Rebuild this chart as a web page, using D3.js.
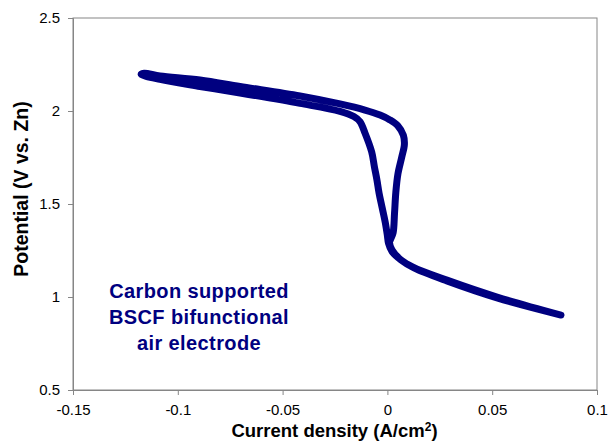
<!DOCTYPE html>
<html>
<head>
<meta charset="utf-8">
<script src="https://cdn.jsdelivr.net/npm/d3@7"></script>
<style>
    body { margin: 0; background: #fff; }
    #chart-area { width: 608px; height: 441px; }
    text { font-family: "Liberation Sans", Arial, sans-serif; }
</style>
</head>
<body>
<div id="chart-area"></div>
<script>
// polarization loop: current density (A/cm2) vs potential (V vs. Zn)
// starts at the end of the tail, runs up the right branch, back along the lower branch
const currentDensity = [
    0.0828, 0.0523, 0.0284, 0.0122, 0.0060, 0.0022, 0.0010,
    0.0015, 0.0027, 0.0034, 0.0040, 0.0050, 0.0068, 0.0081, 0.0076, 0.0050, 0.0012,
    -0.0035, -0.0107, -0.0226, -0.0417, -0.0703, -0.0894, -0.1085, -0.1160, -0.1175,
    -0.1085, -0.0894, -0.0703, -0.0417, -0.0226, -0.0160, -0.0131, -0.0107,
    -0.0075, -0.0062, -0.0050, -0.0040, -0.0025, -0.0010, 0.0000, 0.0005,
    0.0022, 0.0065, 0.0127, 0.0284, 0.0523, 0.0828
];
const potential = [
    0.903, 1.000, 1.091, 1.161, 1.204, 1.253, 1.296,
    1.310, 1.344, 1.450, 1.560, 1.660, 1.750, 1.820, 1.870, 1.920, 1.952,
    1.978, 2.005, 2.038, 2.081, 2.132, 2.167, 2.189, 2.203, 2.197,
    2.170, 2.132, 2.097, 2.041, 1.998, 1.970, 1.943, 1.882,
    1.780, 1.700, 1.630, 1.560, 1.480, 1.400, 1.330, 1.290,
    1.245, 1.199, 1.156, 1.086, 0.995, 0.903
];

const xTicks = [-0.15, -0.1, -0.05, 0, 0.05, 0.1];
const yTicks = [0.5, 1, 1.5, 2, 2.5];
const noteLines = ["Carbon supported", "BSCF bifunctional", "air electrode"];

class PolarizationVis {
    constructor(_parentElement, _x, _y) {
        this.parentElement = _parentElement;
        this.xData = _x;
        this.yData = _y;

        this.initVis();
    }

    initVis() {
        let vis = this;

        vis.margin = { top: 18, right: 11, bottom: 51, left: 73 };
        vis.width = 608 - vis.margin.left - vis.margin.right;
        vis.height = 441 - vis.margin.top - vis.margin.bottom;

        vis.svg = d3.select("#" + vis.parentElement).append("svg")
            .attr("width", 608)
            .attr("height", 441)
            .append("g")
            .attr("transform", "translate(" + vis.margin.left + "," + vis.margin.top + ")");

        vis.x = d3.scaleLinear().domain([-0.15, 0.1]).range([0, vis.width]);
        vis.y = d3.scaleLinear().domain([0.5, 2.5]).range([vis.height, 0]);

        // frame
        vis.svg.append("rect")
            .attr("width", vis.width)
            .attr("height", vis.height)
            .attr("fill", "none")
            .attr("stroke", "#868686")
            .attr("stroke-width", 1);

        // plain hyphen for negatives, like the original
        vis.xAxis = d3.axisBottom(vis.x).tickValues(xTicks).tickSize(5).tickPadding(9)
            .tickFormat(d => String(d));
        vis.yAxis = d3.axisLeft(vis.y).tickValues(yTicks).tickSize(5).tickPadding(8)
            .tickFormat(d => String(d));

        vis.svg.append("g")
            .attr("class", "x-axis")
            .attr("transform", "translate(0," + vis.height + ")")
            .call(vis.xAxis);
        vis.svg.append("g")
            .attr("class", "y-axis")
            .call(vis.yAxis);

        vis.svg.selectAll(".x-axis, .y-axis").selectAll("path, line").attr("stroke", "#868686");
        vis.svg.selectAll(".x-axis, .y-axis").selectAll("text")
            .attr("fill", "#000")
            .style("font-size", "15px");

        // axis titles
        let xt = vis.svg.append("text")
            .attr("x", 334.5 - vis.margin.left)
            .attr("y", 437 - vis.margin.top)
            .attr("text-anchor", "middle")
            .style("font-size", "18.5px")
            .style("font-weight", "bold");
        xt.append("tspan").text("Current density (A/cm");
        xt.append("tspan").attr("dy", -6).style("font-size", "12px").text("2");
        xt.append("tspan").attr("dy", 6).text(")");

        vis.svg.append("text")
            .attr("transform", "translate(" + (28 - vis.margin.left) + "," + (189 - vis.margin.top) + ") rotate(-90)")
            .attr("text-anchor", "middle")
            .style("font-size", "19.5px")
            .style("font-weight", "bold")
            .text("Potential (V vs. Zn)");

        // annotation
        vis.svg.append("g").selectAll("text")
            .data(noteLines)
            .join("text")
            .attr("x", 199 - vis.margin.left)
            .attr("y", (d, i) => 298 - vis.margin.top + i * 26)
            .attr("text-anchor", "middle")
            .attr("fill", "#000080")
            .style("font-size", "20px")
            .style("font-weight", "bold")
            .style("letter-spacing", "0.4px")
            .text(d => d);

        vis.wrangleData();
    }

    wrangleData() {
        let vis = this;

        vis.displayData = vis.xData.map((d, i) => ({ j: d, v: vis.yData[i] }));

        vis.updateVis();
    }

    updateVis() {
        let vis = this;

        let line = d3.line()
            .x(d => vis.x(d.j))
            .y(d => vis.y(d.v))
            .curve(d3.curveCatmullRom.alpha(0.5));

        vis.svg.append("path")
            .datum(vis.displayData)
            .attr("d", line)
            .attr("fill", "none")
            .attr("stroke", "#000080")
            .attr("stroke-width", 7)
            .attr("stroke-linecap", "round")
            .attr("stroke-linejoin", "round");
    }
}

new PolarizationVis("chart-area", currentDensity, potential);
</script>
</body>
</html>
